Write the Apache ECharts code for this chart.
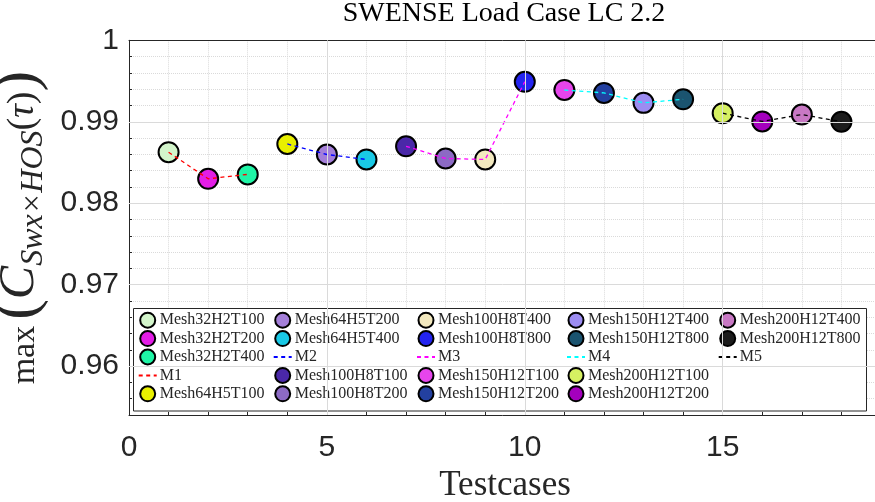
<!DOCTYPE html>
<html>
<head>
<meta charset="utf-8">
<script src="https://cdn.jsdelivr.net/npm/echarts@6/dist/echarts.min.js"></script>
<style>
  html, body { margin: 0; padding: 0; background: #ffffff; }
  #chart { width: 875px; height: 502px; }
</style>
</head>
<body>
<div id="chart"></div>
<script>
// Test case index of each mesh configuration
const testcases = [1, 2, 3, 4, 5, 6, 7, 8, 9, 10, 11, 12, 13, 14, 15, 16, 17, 18];
const meshNames = [
  'Mesh32H2T100', 'Mesh32H2T200', 'Mesh32H2T400',
  'Mesh64H5T100', 'Mesh64H5T200', 'Mesh64H5T400',
  'Mesh100H8T100', 'Mesh100H8T200', 'Mesh100H8T400', 'Mesh100H8T800',
  'Mesh150H12T100', 'Mesh150H12T200', 'Mesh150H12T400', 'Mesh150H12T800',
  'Mesh200H12T100', 'Mesh200H12T200', 'Mesh200H12T400', 'Mesh200H12T800'
];
// Peak cross-correlation max(C_{Swx x HOS}(tau)) per test case
const cMax = [
  0.98626, 0.98300, 0.98354,
  0.98727, 0.98598, 0.98537,
  0.98699, 0.98549, 0.98537, 0.99491,
  0.99390, 0.99354, 0.99232, 0.99276,
  0.99105, 0.99004, 0.99089, 0.99000
];
// Mesh families joined by dashed lines
const groupNames = ['M1', 'M2', 'M3', 'M4', 'M5'];
const groupCases = [[1, 2, 3], [4, 5, 6], [7, 8, 9, 10], [11, 12, 13, 14], [15, 16, 17, 18]];
// Labelled (major) ticks
const xMajorTicks = [0, 5, 10, 15];
const yMajorTicks = [0.96, 0.97, 0.98, 0.99, 1];

const meshColors = [
  '#d3f5cb', '#e31de6', '#1ff5a6',
  '#e8ef00', '#a47fd9', '#19c9e6',
  '#4a28a8', '#8c6ac4', '#f3e9bf', '#2424f0',
  '#e645ec', '#2340a0', '#9c8cf2', '#1b5470',
  '#d6f062', '#a400bd', '#c878c4', '#1c1c1c'
];
const groupColors = ['#ff0000', '#0000ff', '#ff00ff', '#00ffff', '#000000'];

const X_MIN = 0, X_MAX = 19, Y_MIN = 0.954, Y_MAX = 1;
const ink = '#262626';
const serif = 'Liberation Serif';
const sans = 'Liberation Sans';

const series = [];
const legendOrder = [];

// Major grid lines (solid) drawn as mark lines on an empty helper series
series.push({
  name: 'majorGrid',
  type: 'line',
  data: [],
  silent: true,
  z: 1,
  markLine: {
    silent: true,
    symbol: ['none', 'none'],
    label: { show: false },
    animation: false,
    lineStyle: { color: '#dadada', width: 1, type: 'solid' },
    data: xMajorTicks.filter(v => v > X_MIN && v < X_MAX).map(v => ({ xAxis: v }))
      .concat(yMajorTicks.filter(v => v > Y_MIN && v < Y_MAX).map(v => ({ yAxis: v })))
  }
});

// One scatter series per mesh, then the dashed family line after its members
groupCases.forEach((cases, g) => {
  cases.forEach(t => {
    const i = t - 1;
    series.push({
      name: meshNames[i],
      type: 'scatter',
      symbol: 'circle',
      symbolSize: 20,
      z: 3,
      itemStyle: { color: meshColors[i], borderColor: '#000000', borderWidth: 2, opacity: 1 },
      data: [[testcases[i], cMax[i]]]
    });
    legendOrder.push({ name: meshNames[i] });
  });
  series.push({
    name: groupNames[g],
    type: 'line',
    symbol: 'none',
    z: 4,
    lineStyle: { color: groupColors[g], width: 1.3, type: [4, 3.5] },
    itemStyle: { color: groupColors[g] },
    data: cases.map(t => [testcases[t - 1], cMax[t - 1]])
  });
  legendOrder.push({
    name: groupNames[g],
    itemStyle: { opacity: 0, color: 'rgba(0,0,0,0)', borderColor: 'rgba(0,0,0,0)', borderWidth: 0 }
  });
});

// Legend is laid out column by column, five rows per column
const rowsPerCol = 5;
const colLeft = [137.7, 272.7, 416, 566, 717.7];
const legends = [];
for (let k = 0; k * rowsPerCol < legendOrder.length; k++) {
  legends.push({
    data: legendOrder.slice(k * rowsPerCol, (k + 1) * rowsPerCol),
    orient: 'vertical',
    left: colLeft[k],
    top: 311,
    padding: 0,
    itemWidth: 18,
    itemHeight: 15,
    itemGap: 0,
    selectedMode: false,
    textStyle: { fontFamily: serif, fontSize: 16, color: ink, lineHeight: 18.4, padding: [0, 0, 0, -2] }
  });
}

const isMajor = (v, list) => list.some(m => Math.abs(m - v) < 1e-9);

const option = {
  animation: false,
  backgroundColor: '#ffffff',
  title: {
    text: 'SWENSE Load Case LC 2.2',
    left: 504,
    top: 0,
    padding: 0,
    textAlign: 'center',
    textStyle: { fontFamily: serif, fontWeight: 'normal', fontSize: 28, color: '#000000' }
  },
  legend: legends,
  graphic: [{
    type: 'rect',
    z: 3,
    shape: { x: 133.5, y: 308.5, width: 733, height: 102.5 },
    style: { fill: '#ffffff', stroke: ink, lineWidth: 1 }
  }],
  grid: { left: 129, top: 40.3, right: -6, bottom: 87, containLabel: false, outerBoundsMode: 'none' },
  xAxis: [{
    type: 'value',
    position: 'bottom',
    min: X_MIN, max: X_MAX, interval: 1,
    axisLine: { show: true, onZero: false, lineStyle: { color: ink, width: 1 } },
    axisTick: { show: true, inside: true, length: 3, lineStyle: { color: ink } },
    axisLabel: {
      show: true, margin: 18,
      fontFamily: sans, fontSize: 30, color: ink,
      formatter: v => isMajor(v, xMajorTicks) ? String(v) : ''
    },
    splitLine: { show: true, lineStyle: { color: '#dadada', width: 1, type: 'dotted' } },
    name: 'Testcases',
    nameLocation: 'middle',
    nameGap: 51,
    nameTextStyle: { fontFamily: serif, fontSize: 35, color: ink }
  }, {
    type: 'value',
    position: 'top',
    min: X_MIN, max: X_MAX, interval: 5,
    axisLine: { show: true, onZero: false, lineStyle: { color: ink, width: 1 } },
    axisTick: { show: true, inside: true, length: 6, lineStyle: { color: ink } },
    axisLabel: { show: false },
    splitLine: { show: false }
  }],
  yAxis: [{
    type: 'value',
    position: 'left',
    min: Y_MIN, max: Y_MAX, interval: 0.002,
    axisLine: { show: true, onZero: false, lineStyle: { color: ink, width: 1 } },
    axisTick: { show: true, inside: true, length: 3, lineStyle: { color: ink } },
    axisLabel: {
      show: true, margin: 10,
      fontFamily: sans, fontSize: 30, color: ink,
      formatter: v => isMajor(v, yMajorTicks) ? (Math.abs(v - 1) < 1e-9 ? '1' : v.toFixed(2)) : ''
    },
    splitLine: { show: true, lineStyle: { color: '#dadada', width: 1, type: 'dotted' } },
    name: '{m|max}{p|(}{c|C}{s|Swx×HOS}{q|(}{t|τ}{q|)}{p|)}',
    nameLocation: 'middle',
    nameRotate: 90,
    nameGap: 58,
    nameTextStyle: {
      color: ink,
      rich: {
        m: { fontFamily: serif, fontSize: 34, color: ink, verticalAlign: 'bottom', padding: [0, 6, 8, 0] },
        p: { fontFamily: serif, fontSize: 62, color: ink, lineHeight: 62 },
        c: { fontFamily: serif, fontStyle: 'italic', fontSize: 50, color: ink, verticalAlign: 'bottom', padding: [0, 0, 5, 0] },
        s: { fontFamily: serif, fontStyle: 'italic', fontSize: 32, color: ink, verticalAlign: 'bottom' },
        q: { fontFamily: serif, fontSize: 38, color: ink, verticalAlign: 'bottom', padding: [0, 0, 8, 0] },
        t: { fontFamily: serif, fontStyle: 'italic', fontSize: 38, color: ink, verticalAlign: 'bottom', padding: [0, 0, 8, 0] }
      }
    }
  }],
  series: series
};

const chart = echarts.init(document.getElementById('chart'), null, { renderer: 'canvas' });
chart.setOption(option);
</script>
</body>
</html>
